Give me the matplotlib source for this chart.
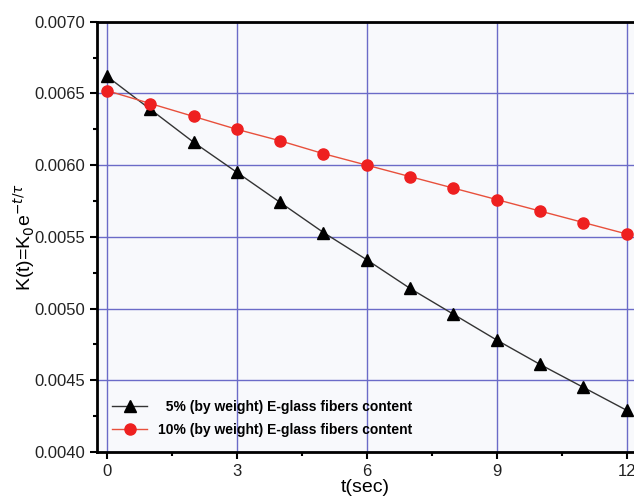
import numpy as np
import matplotlib.pyplot as plt

# data
t = [0, 1, 2, 3, 4, 5, 6, 7, 8, 9, 10, 11, 12]
k_5pct = [0.00662, 0.00639, 0.00616, 0.00595, 0.00574, 0.00553, 0.00534,
          0.00514, 0.00496, 0.00478, 0.00461, 0.00445, 0.00429]
k_10pct = [0.00652, 0.00643, 0.00634, 0.00625, 0.00617, 0.00608, 0.00600,
           0.00592, 0.00584, 0.00576, 0.00568, 0.00560, 0.00552]
labels = ["  5% (by weight) E-glass fibers content",
          "10% (by weight) E-glass fibers content"]
xticks = [0, 3, 6, 9, 12]
yticks = [0.0040, 0.0045, 0.0050, 0.0055, 0.0060, 0.0065, 0.0070]

plt.rcParams['font.family'] = ['Liberation Sans', 'DejaVu Sans']

fig = plt.figure(figsize=(6.34, 4.96), dpi=100)
ax = fig.add_axes([0.153, 0.089, 0.847, 0.867])
ax.set_facecolor('#f8f9fc')

gridc = '#6b6bc8'
ax.grid(True, which='major', color=gridc, lw=1.0)
ax.set_axisbelow(True)

ax.plot(t, k_5pct, color='#333333', lw=1.0, marker='^', ms=9,
        mfc='black', mec='black', label=labels[0])
ax.plot(t, k_10pct, color='#e8503c', lw=1.0, marker='o', ms=8,
        mfc='#ee2020', mec='#ee2020', label=labels[1])

ax.set_xlim(-0.23, 12.17)
ax.set_ylim(0.0040, 0.0070)
ax.set_xticks(xticks)
ax.set_xticks([1.5, 4.5, 7.5, 10.5], minor=True)
ax.set_yticks(yticks)
ax.set_yticks([0.00425, 0.00475, 0.00525, 0.00575, 0.00625, 0.00675], minor=True)
ax.set_yticklabels(['%.4f' % v for v in yticks])
ax.tick_params(which='major', direction='out', length=5, width=1.5,
               labelsize=12, labelcolor='#222222')
ax.tick_params(which='minor', direction='out', length=3, width=1.5)

for s in ['left', 'bottom', 'top']:
    ax.spines[s].set_linewidth(2)
ax.spines['right'].set_visible(False)

ax.set_xlabel('t(sec)', fontsize=14, labelpad=0)
ax.set_ylabel(r'K(t)=K$_0$e$^{-t/\tau}$', fontsize=14, labelpad=-2)

ax.legend(loc='lower left', frameon=False, prop={'weight': 'bold', 'size': 10},
          handlelength=2.5, borderaxespad=0.7, labelspacing=0.6)

fig.savefig('out.png', dpi=100)
